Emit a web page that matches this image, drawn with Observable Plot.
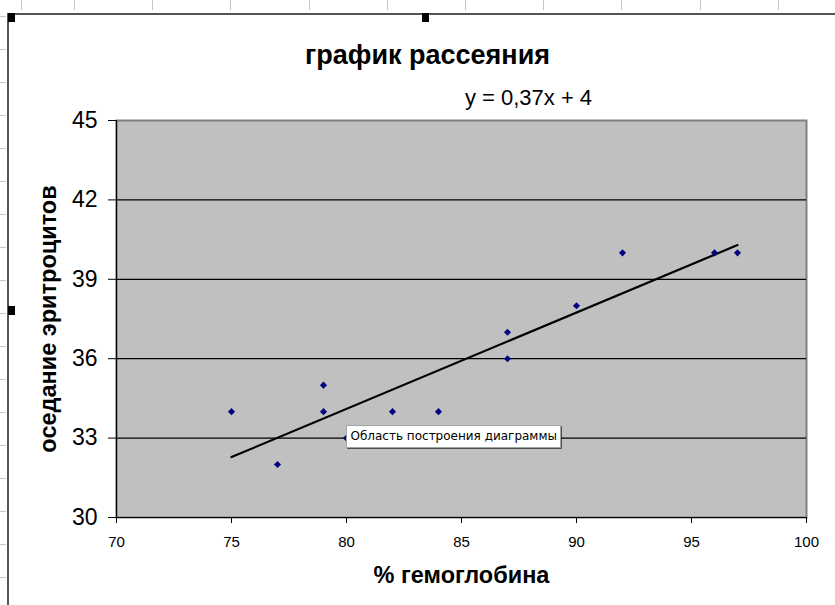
<!DOCTYPE html>
<html>
<head>
<meta charset="utf-8">
<script src="https://cdn.jsdelivr.net/npm/d3@7"></script>
<script src="https://cdn.jsdelivr.net/npm/@observablehq/plot@0.6"></script>
<style>
  html, body { margin: 0; padding: 0; background: #fff; }
  #page { position: relative; width: 835px; height: 605px; overflow: hidden; background: #fff; }
  #rulerTop { position: absolute; left: 0; top: 0; width: 835px; height: 10px;
    background-image: repeating-linear-gradient(to right, #c4c4c4 0 1px, transparent 1px 78.2px);
    background-position: 74px 0; }
  #rulerLeft { position: absolute; left: 0; top: 16px; width: 6px; height: 589px;
    background-image: repeating-linear-gradient(to bottom, #c4c4c4 0 1px, transparent 1px 33px); }
  #chartBorder { position: absolute; left: 7px; top: 13px; width: 840px; height: 600px;
    border-left: 2px solid #555; border-top: 2px solid #555; }
  .handle { position: absolute; width: 7px; height: 9px; background: #000; }
  #chart { position: absolute; left: 0; top: 0; }
</style>
</head>
<body>
<div id="page">
  <div id="rulerTop"></div>
  <div id="rulerLeft"></div>
  <div id="chartBorder"></div>
  <div class="handle" style="left:8px; top:13px;"></div>
  <div class="handle" style="left:422px; top:13px;"></div>
  <div class="handle" style="left:8px; top:306px;"></div>
  <div id="chart"></div>
</div>
<script>
// ---- data ----
const hemoglobin = [75, 77, 79, 79, 80, 82, 84, 87, 87, 90, 92, 96, 97];
const esr        = [34, 32, 35, 34, 33, 34, 34, 37, 36, 38, 40, 40, 40];
const xTicks = [70, 75, 80, 85, 90, 95, 100];
const yTicks = [30, 33, 36, 39, 42, 45];
const gridY  = [33, 36, 39, 42];
const titleText = "график рассеяния";
const equationText = "y = 0,37x + 4";
const xLabel = "% гемоглобина";
const yLabel = "оседание эритроцитов";
const tipText = "Область построения диаграммы";
const tipHemoglobin = [80];
const tipEsr = [33];

const points = hemoglobin.map((x, i) => ({x, y: esr[i]}));
const tipData = tipHemoglobin.map((x, i) => ({x, y: tipEsr[i], text: tipText}));

const tipMarks = Plot.tip ? [
  Plot.tip(tipData, {
    x: "x", y: "y", title: "text", anchor: "left", pointerSize: 0, dy: -2,
    fontSize: 12, fontFamily: "DejaVu Sans, sans-serif", textPadding: 4,
    fill: "#fff", stroke: "#9aa89a", pathFilter: "drop-shadow(1px 1px 0px rgba(0,0,0,0.6))"
  })
] : [];

const chart = Plot.plot({
  width: 835,
  height: 605,
  marginLeft: 116,
  marginRight: 29,
  marginTop: 120,
  marginBottom: 88,
  x: {domain: [70, 100]},
  y: {domain: [30, 45]},
  style: {background: "transparent", fontFamily: "'Liberation Sans', Arial, sans-serif", color: "#000"},
  marks: [
    Plot.frame({fill: "#c0c0c0", stroke: "#808080", strokeWidth: 2}),
    Plot.ruleY(gridY, {stroke: "#000", strokeWidth: 1.2}),
    Plot.ruleX([70], {stroke: "#000", strokeWidth: 1.2}),
    Plot.ruleY([30], {stroke: "#000", strokeWidth: 1.2}),
    Plot.axisY({ticks: yTicks, tickSize: 8, tickPadding: 11, fontSize: 23, label: null, tickFormat: d => d}),
    Plot.axisX({ticks: xTicks, tickSize: 6, tickPadding: 13, fontSize: 15,
      fontFamily: "'Liberation Sans Narrow', 'Arial Narrow', sans-serif", label: null, tickFormat: d => d}),
    Plot.linearRegressionY(points, {x: "x", y: "y", stroke: "#000", strokeWidth: 2.2, ci: 0}),
    Plot.dot(points, {x: "x", y: "y", symbol: "diamond2", r: 3.2, fill: "#000080", stroke: "none"}),
    Plot.text([titleText], {frameAnchor: "top", lineAnchor: "middle", textAnchor: "middle", dx: -34, dy: -65, fontSize: 27, fontWeight: "bold"}),
    Plot.text([equationText], {frameAnchor: "top", lineAnchor: "middle", textAnchor: "middle", dx: 67, dy: -23, fontSize: 22}),
    Plot.text([xLabel], {frameAnchor: "bottom", lineAnchor: "middle", textAnchor: "middle", dy: 58, fontSize: 23.5, fontWeight: "bold"}),
    Plot.text([yLabel], {frameAnchor: "left", lineAnchor: "middle", textAnchor: "middle", dx: -68, rotate: -90, fontSize: 23.5, fontWeight: "bold"}),
    ...tipMarks
  ]
});
document.getElementById("chart").appendChild(chart);
</script>
</body>
</html>
